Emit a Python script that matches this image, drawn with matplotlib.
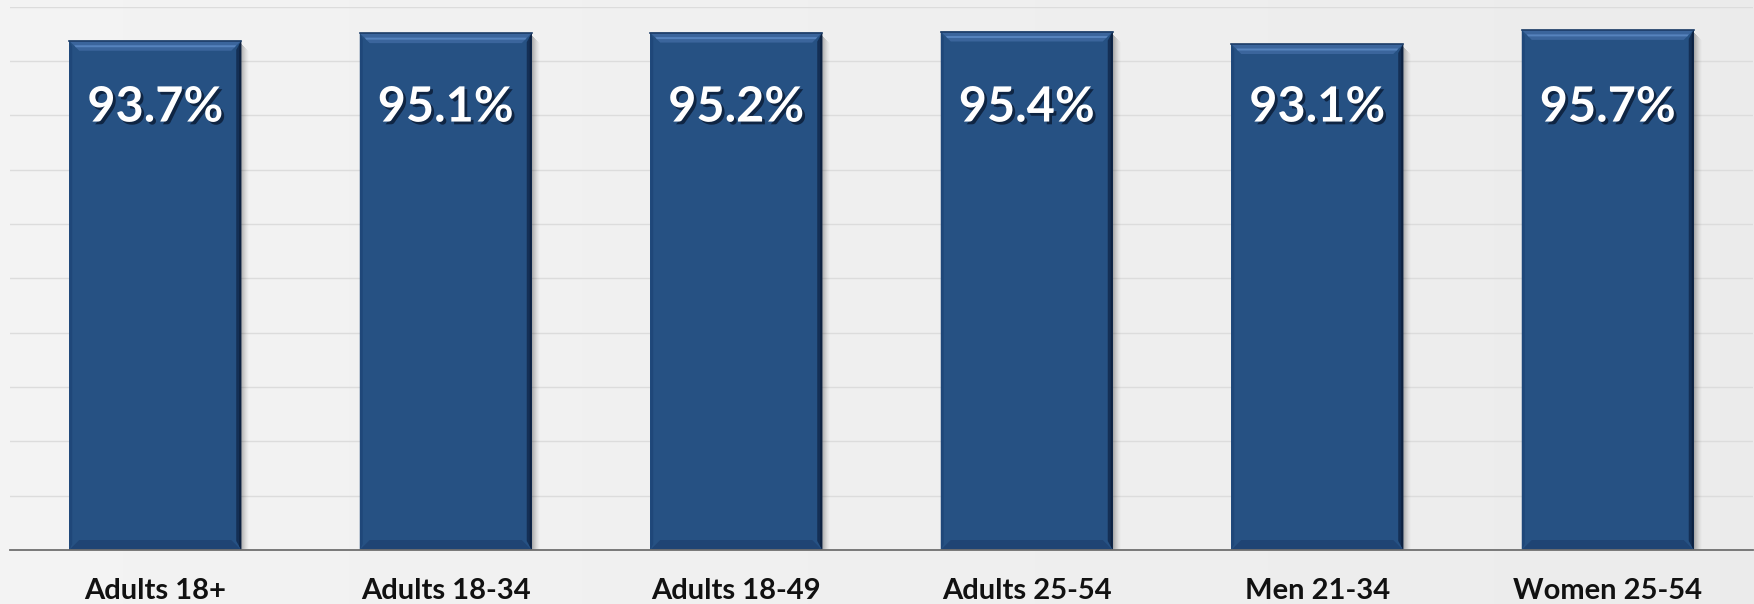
import matplotlib
matplotlib.use("Agg")
import matplotlib.pyplot as plt
import matplotlib.patheffects as pe
from matplotlib.patches import Polygon, Rectangle
import numpy as np

categories = ["Adults 18+", "Adults 18-34", "Adults 18-49", "Adults 25-54", "Men 21-34", "Women 25-54"]
values = [93.7, 95.1, 95.2, 95.4, 93.1, 95.7]
value_labels = ["93.7%", "95.1%", "95.2%", "95.4%", "93.1%", "95.7%"]

W, H, DPI = 17.54, 6.04, 100
fig = plt.figure(figsize=(W, H), dpi=DPI, facecolor="#efefef")

# subtle background gradient
bg = fig.add_axes([0, 0, 1, 1], zorder=-10)
grad = np.linspace(0, 1, 256)[None, :]
g = 0.955 - 0.03 * grad
img = np.dstack([g, g, g])
bg.imshow(img, aspect="auto", extent=[0, 1, 0, 1])
bg.axis("off")

ax = fig.add_axes([10 / 1754, 1 - 550 / 604, 1743 / 1754, 543.5 / 604])
ax.set_facecolor("none")
x = np.arange(len(categories))
bar_w = 0.592
bars = ax.bar(x, values, width=bar_w, color="#265183", zorder=3, linewidth=0)

ax.set_xlim(-0.5, len(categories) - 0.5)
ax.set_ylim(0, 100)
ax.set_yticks(np.arange(0, 101, 10))
ax.yaxis.grid(True, color="#dcdcdc", linewidth=1.0, zorder=0)
ax.set_axisbelow(True)
ax.tick_params(axis="y", left=False, labelleft=False)
ax.tick_params(axis="x", length=0, pad=20)
ax.set_xticks(x)
ax.set_xticklabels(categories, fontsize=21, fontweight="bold", family=["Lato", "DejaVu Sans"], color="#111111")
for s in ["top", "left", "right"]:
    ax.spines[s].set_visible(False)
ax.spines["bottom"].set_color("#6f6f6f")
ax.spines["bottom"].set_linewidth(1.3)
ax.spines["bottom"].set_zorder(6)

# pixel -> data conversions
px_x = 6.0 / 1743.0
px_y = 100.0 / 543.5

for b in bars:
    x0, w, h = b.get_x(), b.get_width(), b.get_height()
    x1 = x0 + w
    bx, by = 10 * px_x, 10 * px_y
    sx = 5 * px_x
    # shadow to the right
    for i in range(8):
        ax.add_patch(Rectangle((x1 + i * px_x, 0), px_x, h - (3 + i) * px_y,
                               color="black", alpha=0.28 * (1 - i / 8) ** 1.5, lw=0, zorder=2))
    # top bevel
    ax.add_patch(Polygon([(x0, h), (x1, h), (x1 - bx, h - by), (x0 + bx, h - by)],
                         closed=True, color="#3b659c", lw=0, zorder=4))
    ax.add_patch(Polygon([(x0 + 0.5 * bx, h - 0.45 * by), (x1 - 0.5 * bx, h - 0.45 * by),
                          (x1 - 0.65 * bx, h - 0.65 * by), (x0 + 0.65 * bx, h - 0.65 * by)],
                         closed=True, color="#5683bd", lw=0, zorder=4))
    # bottom bevel
    ax.add_patch(Polygon([(x0, 0), (x1, 0), (x1 - bx, by), (x0 + bx, by)],
                         closed=True, color="#1f4474", lw=0, zorder=4))
    # left bevel
    ax.add_patch(Polygon([(x0, 0), (x0, h), (x0 + sx * 0.6, h - by * 0.6), (x0 + sx * 0.6, by * 0.6)],
                         closed=True, color="#1f4779", lw=0, zorder=4))
    # right bevel
    ax.add_patch(Polygon([(x1, 0), (x1, h), (x1 - sx, h - by * 0.9), (x1 - sx, by * 0.9)],
                         closed=True, color="#142f55", lw=0, zorder=4))
    ax.add_patch(Polygon([(x1, 0), (x1, h), (x1 - sx * 0.4, h - by * 0.4), (x1 - sx * 0.4, by * 0.4)],
                         closed=True, color="#0d2140", lw=0, zorder=4))
    # top edge line
    ax.plot([x0, x1], [h, h], color="#1c3c66", lw=1.2, zorder=5)

label_y = 81.5
for xi, lab in zip(x, value_labels):
    ax.text(xi, label_y, lab, ha="center", va="center", color="white", fontsize=35,
            fontweight="bold", family=["Lato", "DejaVu Sans"], zorder=7,
            path_effects=[pe.withSimplePatchShadow(offset=(2, -2), shadow_rgbFace="#0a1a33", alpha=0.8)])

fig.savefig("out.png", dpi=DPI, facecolor=fig.get_facecolor())
